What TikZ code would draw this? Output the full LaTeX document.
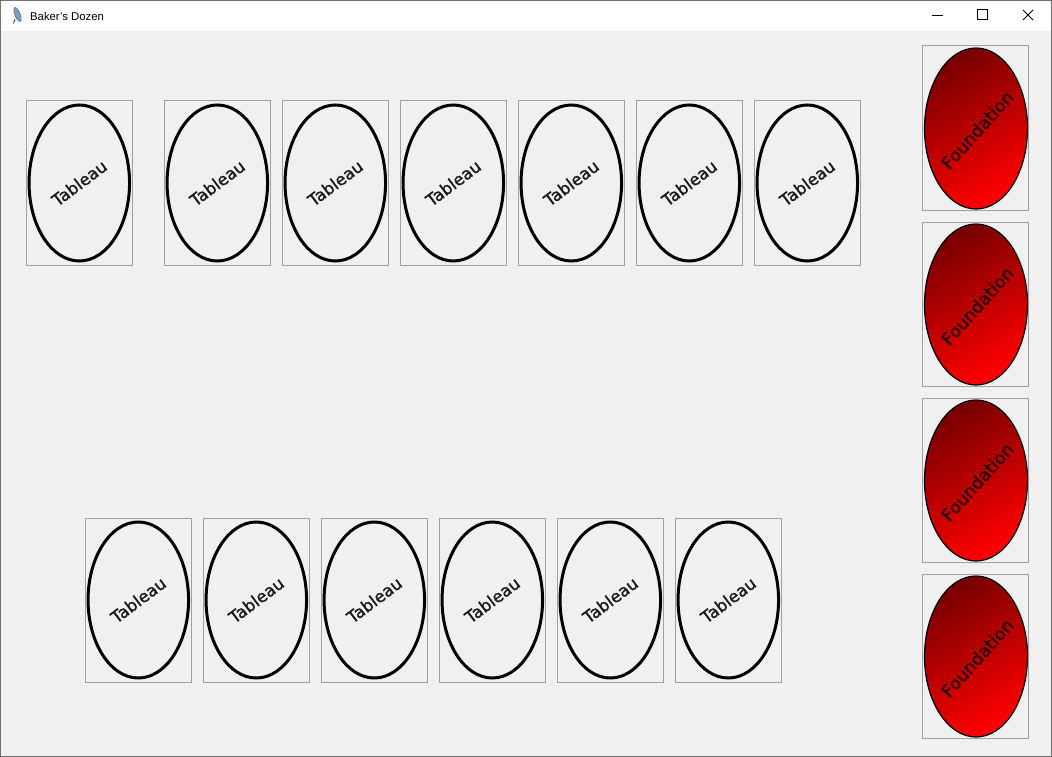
\documentclass[tikz,border=0pt]{standalone}
\usepackage{fontspec}
\setmainfont{Liberation Sans}
\newfontfamily\cardfont[BoldFont={DejaVu Sans}, BoldFeatures={FakeBold=1.3}]{DejaVu Sans}
\usetikzlibrary{shapes.geometric}
\definecolor{winbg}{HTML}{F0F0F0}
\definecolor{cardedge}{HTML}{A0A0A0}
\definecolor{fdark}{HTML}{7A0000}
\definecolor{fbright}{HTML}{FF0000}
\definecolor{winedge}{HTML}{707070}
\definecolor{feather}{HTML}{7F9CC0}
\begin{document}
\begin{tikzpicture}[x=1pt,y=-1pt,
  card/.style={draw=cardedge, line width=1pt, minimum width=106pt, minimum height=164pt, inner sep=0pt, outer sep=0pt},
  tabl/.style={ellipse, draw=black, line width=3pt, minimum width=100.5pt, minimum height=156pt, inner sep=0pt},
  found/.style={ellipse, draw=black, line width=1.2pt, minimum width=103pt, minimum height=161pt, inner sep=0pt,
    top color=fdark, bottom color=fbright, shading angle=30},
  tlabel/.style={font=\cardfont\bfseries\fontsize{16.6}{19}\selectfont, text=black!90, inner sep=0pt, rotate=37},
  flabel/.style={font=\cardfont\bfseries\fontsize{17.5}{20}\selectfont, text=black!85!red, inner sep=0pt, rotate=48},
  ttext/.style={font=\fontsize{11.3}{13}\selectfont, anchor=west, inner sep=0pt}
]
\useasboundingbox (0,0) rectangle (1052,757);
% window
\fill[winbg] (0,0) rectangle (1052,757);
\fill[white] (0,0) rectangle (1052,31);
\draw[winedge, line width=1pt] (0.5,0.5) rectangle (1051.5,756.5);
% title
\node[ttext] (title) at (30,16) {Baker's Dozen};
\node[inner sep=0pt] (icon) at (17.5,14.5) {};
\draw[feather!70!black, fill=feather, line width=0.6pt, rotate around={-68:(17.5,14.5)}] (17.5,14.5) ellipse (7.5 and 2.6);
\coordinate (stemA) at (15,19);
\coordinate (stemB) at (13.5,23.5);
\draw[black!75, line width=0.8pt] (stemA) -- (stemB);
\coordinate (minA) at (932,15.5);
\coordinate (minB) at (943,15.5);
\draw[black, line width=1pt] (minA) -- (minB);
\node[draw=black, line width=1pt, minimum width=10pt, minimum height=10pt, inner sep=0pt] (maxbtn) at (982,15) {};
\coordinate (xA) at (1023,10);
\coordinate (xB) at (1033,20);
\coordinate (xC) at (1023,20);
\coordinate (xD) at (1033,10);
\draw[black, line width=1pt] (xA) -- (xB) (xC) -- (xD);
% top row tableaus
\foreach \i/\x in {1/79,2/217,3/335,4/453,5/571,6/689,7/807}{
  \node[card] (tc\i) at (\x,183) {};
  \node[tabl] (te\i) at (\x+0.3,183) {};
  \node[tlabel] (tt\i) at (te\i.center) {Tableau};
}
% bottom row tableaus
\foreach \i/\x in {1/138,2/256,3/374,4/492,5/610,6/728}{
  \node[card] (bc\i) at (\x,600) {};
  \node[tabl] (be\i) at (\x+0.3,600) {};
  \node[tlabel] (bt\i) at (be\i.center) {Tableau};
}
% foundations
\foreach \i/\y in {1/128,2/304,3/480,4/656}{
  \node[card] (fc\i) at (975,\y) {};
  \node[found] (fe\i) at (976,\y+0.5) {};
  \node[flabel] (ft\i) at ([xshift=1pt,yshift=-1.5pt]fe\i.center) {Foundation};
}
\end{tikzpicture}
\end{document}
